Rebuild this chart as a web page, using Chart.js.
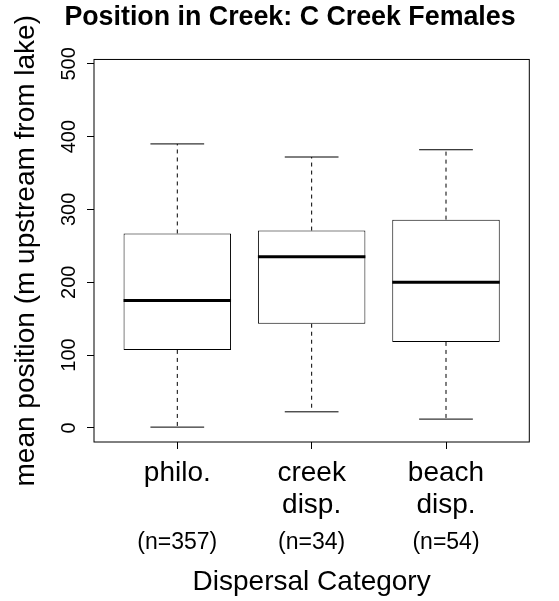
<!DOCTYPE html>
<html>
<head>
<meta charset="utf-8">
<script src="https://cdn.jsdelivr.net/npm/chart.js@4.4.1/dist/chart.umd.min.js"></script>
<style>
  html, body { margin: 0; padding: 0; background: #fff; }
  #wrap { width: 559px; height: 601px; }
</style>
</head>
<body>
<div id="wrap"><canvas id="c" width="559" height="601"></canvas></div>
<script>
// ---- data ----
const categories = [["philo."], ["creek", "disp."], ["beach", "disp."]];
const sampleSizes = ["(n=357)", "(n=34)", "(n=54)"];
const positions = [1, 2, 3];
const whiskerLow = [1, 22, 12];
const quartile1 = [107, 143, 118];
const medians = [175, 235, 200];
const quartile3 = [267, 271, 286];
const whiskerHigh = [390, 372, 382];
const yTicks = [0, 100, 200, 300, 400, 500];

const FONT = "'Liberation Sans', Arial, Helvetica, sans-serif";

const boxplotPlugin = {
  id: 'boxplotDetails',
  afterDatasetsDraw(chart) {
    const { ctx, chartArea, scales } = chart;
    const xs = scales.x, ys = scales.y;
    const bars = chart.getDatasetMeta(0).data;
    const line = (x1, y1, x2, y2) => {
      ctx.beginPath(); ctx.moveTo(x1, y1); ctx.lineTo(x2, y2); ctx.stroke();
    };
    ctx.save();
    ctx.strokeStyle = '#000';
    positions.forEach((p, i) => {
      const cx = xs.getPixelForValue(p);
      const yHi = ys.getPixelForValue(whiskerHigh[i]);
      const yLo = ys.getPixelForValue(whiskerLow[i]);
      // dashed whiskers
      ctx.lineWidth = 1;
      ctx.setLineDash([4, 4]);
      line(cx, ys.getPixelForValue(quartile3[i]), cx, yHi);
      line(cx, ys.getPixelForValue(quartile1[i]), cx, yLo);
      ctx.setLineDash([]);
      // staples
      const sx1 = xs.getPixelForValue(p - 0.2), sx2 = xs.getPixelForValue(p + 0.2);
      line(sx1, yHi, sx2, yHi);
      line(sx1, yLo, sx2, yLo);
      // median
      const w = bars[i].width;
      ctx.lineWidth = 3;
      const ym = ys.getPixelForValue(medians[i]);
      line(cx - w / 2, ym, cx + w / 2, ym);
    });
    // plot frame
    ctx.lineWidth = 1;
    ctx.strokeRect(chartArea.left, chartArea.top, chartArea.width, chartArea.height);
    ctx.restore();
  }
};

new Chart(document.getElementById('c'), {
  type: 'bar',
  data: {
    datasets: [{
      data: positions.map((p, i) => ({ x: p, y: [quartile1[i], quartile3[i]] })),
      backgroundColor: '#ffffff',
      borderColor: '#000000',
      borderWidth: 1,
      borderSkipped: false,
      barPercentage: 0.8,
      categoryPercentage: 1.0
    }]
  },
  options: {
    responsive: false,
    devicePixelRatio: 1,
    animation: false,
    layout: { padding: { left: 50.7, right: 29.7, top: 0, bottom: 0 } },
    plugins: {
      legend: { display: false },
      tooltip: { enabled: false },
      title: {
        display: true,
        text: 'Position in Creek: C Creek Females',
        color: '#000',
        font: { family: FONT, size: 26.8, weight: 'bold', lineHeight: 1.2 },
        padding: { top: 1.4, bottom: 25.9 }
      }
    },
    scales: {
      x: {
        type: 'linear',
        position: 'bottom',
        offset: false,
        min: 0.38,
        max: 3.62,
        weight: 0,
        afterBuildTicks: (s) => { s.ticks = positions.map(v => ({ value: v })); },
        afterFit: (s) => { s.height = 85; },
        grid: { display: true, offset: false, drawOnChartArea: false, drawTicks: true, tickLength: 7, color: '#000' },
        border: { display: false },
        ticks: {
          autoSkip: false,
          maxRotation: 0,
          padding: 8.2,
          color: '#000',
          font: { family: FONT, size: 28, lineHeight: 1.15 },
          callback: (v, i) => categories[i]
        }
      },
      x2: {
        type: 'linear',
        position: 'bottom',
        offset: false,
        min: 0.38,
        max: 3.62,
        weight: 1,
        afterBuildTicks: (s) => { s.ticks = positions.map(v => ({ value: v })); },
        afterFit: (s) => { s.height = 74; },
        grid: { display: false, offset: false, drawTicks: false },
        border: { display: false },
        ticks: {
          autoSkip: false,
          maxRotation: 0,
          padding: 2.8,
          color: '#000',
          font: { family: FONT, size: 23, lineHeight: 1.15 },
          callback: (v, i) => sampleSizes[i]
        },
        title: {
          display: true,
          text: 'Dispersal Category',
          color: '#000',
          font: { family: FONT, size: 28, lineHeight: 1.15 },
          padding: { top: 0, bottom: 2.2 }
        }
      },
      y: {
        type: 'linear',
        position: 'left',
        min: -19.45,
        max: 506,
        afterBuildTicks: (s) => { s.ticks = yTicks.map(v => ({ value: v })); },
        afterFit: (s) => { s.width = 43.3; },
        grid: { display: true, drawOnChartArea: false, drawTicks: true, tickLength: 7, color: '#000' },
        border: { display: false },
        ticks: {
          minRotation: 90,
          maxRotation: 90,
          crossAlign: 'center',
          padding: 1.3,
          color: '#000',
          font: { family: FONT, size: 20, lineHeight: 1.15 }
        },
        title: {
          display: true,
          text: 'mean position (m upstream from lake)',
          color: '#000',
          font: { family: FONT, size: 28, lineHeight: 1.15 },
          padding: { top: -40.8, bottom: 0 }
        }
      }
    }
  },
  plugins: [boxplotPlugin]
});
</script>
</body>
</html>
